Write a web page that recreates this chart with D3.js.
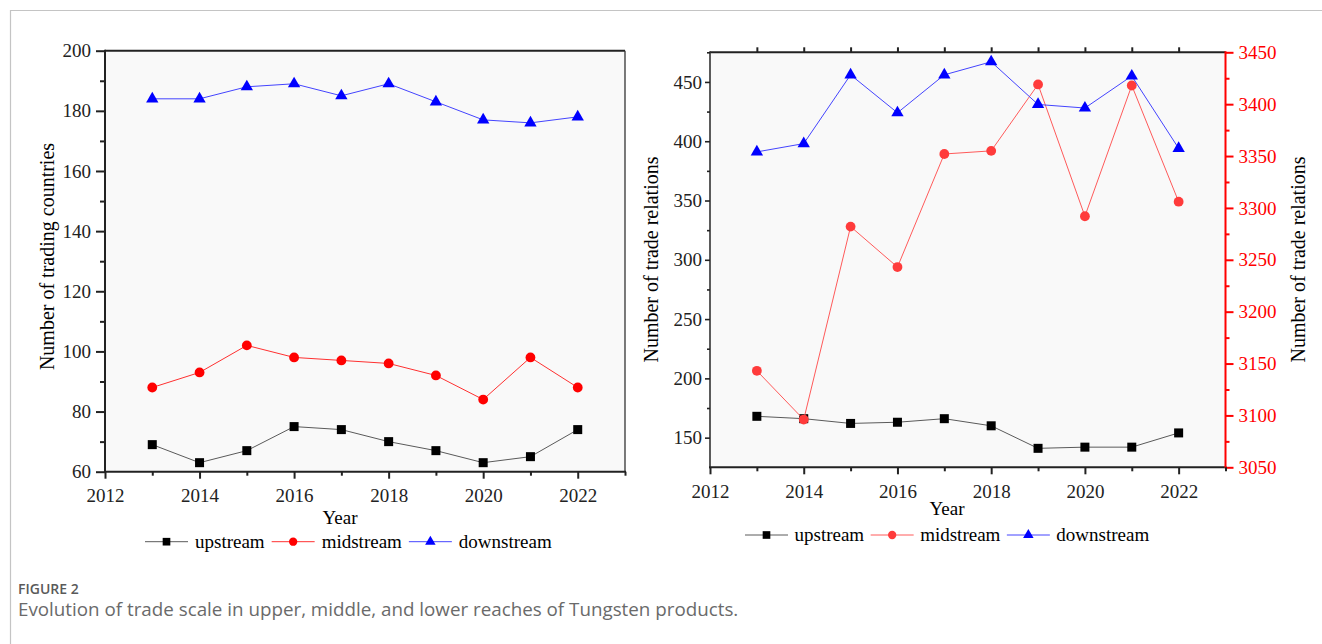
<!DOCTYPE html>
<html>
<head>
<meta charset="utf-8">
<script src="https://cdn.jsdelivr.net/npm/d3@7"></script>
<style>
  html, body { margin: 0; padding: 0; background: #fff; }
  svg { display: block; }
</style>
</head>
<body>
<svg id="fig" width="1322" height="644"></svg>
<script>
// ---- data ----
const years = [2013, 2014, 2015, 2016, 2017, 2018, 2019, 2020, 2021, 2022];
const seriesNames = ["upstream", "midstream", "downstream"];

// trading countries per segment
const countriesUp   = [69, 63, 67, 75, 74, 70, 67, 63, 65, 74];
const countriesMid  = [88, 93, 102, 98, 97, 96, 92, 84, 98, 88];
const countriesDown = [184, 184, 188, 189, 185, 189, 183, 177, 176, 178];

// trade relations per segment (midstream on the right-hand axis)
const relationsUp   = [168, 166, 162, 163, 166, 160, 141, 142, 142, 154];
const relationsMid  = [3143, 3096, 3282, 3243, 3352, 3355, 3419, 3292, 3418, 3306];
const relationsDown = [391, 398, 456, 424, 456, 467, 431, 428, 455, 394];

// axis ticks
const yearTicks       = [2012, 2014, 2016, 2018, 2020, 2022];
const yearMinorTicks  = [2013, 2015, 2017, 2019, 2021, 2023];
const countryTicks    = [60, 80, 100, 120, 140, 160, 180, 200];
const countryMinor    = [70, 90, 110, 130, 150, 170, 190];
const relTicks        = [150, 200, 250, 300, 350, 400, 450];
const relMinor        = [175, 225, 275, 325, 375, 425, 475];
const relRightTicks   = [3050, 3100, 3150, 3200, 3250, 3300, 3350, 3400, 3450];
const relRightMinor   = [3075, 3125, 3175, 3225, 3275, 3325, 3375, 3425];

const SERIF = "Liberation Serif";
const SANS = "Open Sans";
const fmtInt = d3.format("d");
const svg = d3.select("#fig");

// page frame rules
svg.append("line").attr("x1", 10).attr("x2", 1322).attr("y1", 10.5).attr("y2", 10.5)
  .attr("stroke", "#c4c4c4").attr("stroke-width", 1.2);
svg.append("line").attr("x1", 10.5).attr("x2", 10.5).attr("y1", 10).attr("y2", 644)
  .attr("stroke", "#c4c4c4").attr("stroke-width", 1.2);

const styles = {
  up:   { line: "#5a5a5a", fill: "#000000", shape: "square" },
  mid:  { line: "#ff3030", fill: "#ff0000", shape: "circle" },
  mid2: { line: "#ff5a5a", fill: "#ff3b3b", shape: "circle" },
  down: { line: "#4444ff", fill: "#0000ff", shape: "triangle" }
};

function drawMarker(g, shape, cx, cy, color, scale) {
  scale = scale || 1;
  if (shape === "square") {
    const s = 9 * scale;
    g.append("rect").attr("x", cx - s / 2).attr("y", cy - s / 2)
      .attr("width", s).attr("height", s).attr("fill", color);
  } else if (shape === "circle") {
    g.append("circle").attr("cx", cx).attr("cy", cy).attr("r", 4.9 * scale).attr("fill", color);
  } else {
    g.append("path").attr("d", d3.symbol(d3.symbolTriangle, 66 * scale * scale)())
      .attr("transform", `translate(${cx},${cy})`).attr("fill", color);
  }
}

function drawSeries(g, x, y, values, st) {
  const line = d3.line().x((d, i) => x(years[i])).y(d => y(d));
  g.append("path").datum(values).attr("d", line)
    .attr("fill", "none").attr("stroke", st.line).attr("stroke-width", 1);
  const mg = g.append("g");
  values.forEach((v, i) => drawMarker(mg, st.shape, x(years[i]), y(v), st.fill));
}

function styleAxis(g, color, width) {
  g.attr("font-family", SERIF).attr("font-size", 19);
  g.select(".domain").remove();
  g.selectAll(".tick line").attr("stroke", color).attr("stroke-width", width);
  g.selectAll(".tick text").attr("fill", color)
    .attr("font-family", SERIF).attr("font-size", 19);
}

function legend(x0, cy, items, gap) {
  const g = svg.append("g");
  let x = x0;
  items.forEach(it => {
    g.append("line").attr("x1", x).attr("x2", x + 43).attr("y1", cy).attr("y2", cy)
      .attr("stroke", it.st.line).attr("stroke-width", 1);
    drawMarker(g, it.st.shape, x + 21.5, cy, it.st.fill, 0.85);
    const t = g.append("text").attr("x", x + 43 + gap).attr("y", cy).attr("dy", "0.32em")
      .attr("font-family", SERIF).attr("font-size", 19).attr("fill", "#000").text(it.name);
    x = x + 43 + gap + t.node().getComputedTextLength() + gap;
  });
}

// ---------- left panel: number of trading countries ----------
{
  const L = 105, R = 625, T = 50.7, B = 471.7;
  const x = d3.scaleLinear().domain([2012, 2023]).range([L, R]);
  const y = d3.scaleLinear().domain([60, 200]).range([B, T]);
  const g = svg.append("g");
  g.append("rect").attr("x", L).attr("y", T).attr("width", R - L).attr("height", B - T).attr("fill", "#f9f9f9");

  const plot = g.append("g");
  drawSeries(plot, x, y, countriesUp, styles.up);
  drawSeries(plot, x, y, countriesMid, styles.mid);
  drawSeries(plot, x, y, countriesDown, styles.down);

  // frame
  g.append("line").attr("x1", L).attr("x2", R).attr("y1", T).attr("y2", T).attr("stroke", "#222").attr("stroke-width", 2);
  g.append("line").attr("x1", R).attr("x2", R).attr("y1", T).attr("y2", B).attr("stroke", "#333").attr("stroke-width", 1.3);
  g.append("line").attr("x1", L).attr("x2", L).attr("y1", T - 1).attr("y2", B + 1).attr("stroke", "#222").attr("stroke-width", 2);
  g.append("line").attr("x1", L - 1).attr("x2", R + 1).attr("y1", B).attr("y2", B).attr("stroke", "#222").attr("stroke-width", 2);

  const ay = g.append("g").attr("transform", `translate(${L},0)`)
    .call(d3.axisLeft(y).tickValues(countryTicks).tickSize(9).tickPadding(5).tickFormat(fmtInt));
  styleAxis(ay, "#222", 2);
  const ay2 = g.append("g").attr("transform", `translate(${L},0)`)
    .call(d3.axisLeft(y).tickValues(countryMinor).tickSize(5).tickFormat(""));
  styleAxis(ay2, "#222", 2);

  const ax = g.append("g").attr("transform", `translate(0,${B})`)
    .call(d3.axisBottom(x).tickValues(yearTicks).tickSize(7).tickPadding(10).tickFormat(fmtInt));
  styleAxis(ax, "#222", 2);
  const ax2 = g.append("g").attr("transform", `translate(0,${B})`)
    .call(d3.axisBottom(x).tickValues(yearMinorTicks).tickSize(4).tickFormat(""));
  styleAxis(ax2, "#222", 2);

  g.append("text").attr("x", 340).attr("y", 524).attr("text-anchor", "middle")
    .attr("font-family", SERIF).attr("font-size", 19).text("Year");
  g.append("text").attr("transform", "translate(47,256.5) rotate(-90)").attr("text-anchor", "middle")
    .attr("dy", "0.35em").attr("font-family", SERIF).attr("font-size", 20).text("Number of trading countries");

  legend(145, 541.7, [
    { name: seriesNames[0], st: styles.up },
    { name: seriesNames[1], st: styles.mid },
    { name: seriesNames[2], st: styles.down }
  ], 7);
}

// ---------- right panel: number of trade relations ----------
{
  const L = 710, R = 1225.5, T = 52.3, B = 467.3;
  const x = d3.scaleLinear().domain([2012, 2023]).range([L, R]);
  const y = d3.scaleLinear().domain([125, 475]).range([B, T]);
  const yR = d3.scaleLinear().domain([3050, 3450]).range([B, T]);
  const g = svg.append("g");
  g.append("rect").attr("x", L).attr("y", T).attr("width", R - L).attr("height", B - T).attr("fill", "#f9f9f9");

  const plot = g.append("g");
  drawSeries(plot, x, y, relationsUp, styles.up);
  drawSeries(plot, x, yR, relationsMid, styles.mid2);
  drawSeries(plot, x, y, relationsDown, styles.down);

  // frame
  g.append("line").attr("x1", L).attr("x2", R).attr("y1", T).attr("y2", T).attr("stroke", "#222").attr("stroke-width", 2);
  g.append("line").attr("x1", L).attr("x2", L).attr("y1", T - 1).attr("y2", B + 1).attr("stroke", "#333").attr("stroke-width", 1.6);
  g.append("line").attr("x1", L - 1).attr("x2", R + 1).attr("y1", B).attr("y2", B).attr("stroke", "#222").attr("stroke-width", 2);
  g.append("line").attr("x1", R).attr("x2", R).attr("y1", T - 1).attr("y2", B + 1).attr("stroke", "#ff0000").attr("stroke-width", 2);

  const ay = g.append("g").attr("transform", `translate(${L},0)`)
    .call(d3.axisLeft(y).tickValues(relTicks).tickSize(5).tickPadding(3).tickFormat(fmtInt));
  styleAxis(ay, "#222", 1.6);
  const ay2 = g.append("g").attr("transform", `translate(${L},0)`)
    .call(d3.axisLeft(y).tickValues(relMinor).tickSize(3).tickFormat(""));
  styleAxis(ay2, "#222", 1.6);

  const ar = g.append("g").attr("transform", `translate(${R},0)`)
    .call(d3.axisRight(yR).tickValues(relRightTicks).tickSize(8).tickPadding(5).tickFormat(fmtInt));
  styleAxis(ar, "#ff0000", 2);
  const ar2 = g.append("g").attr("transform", `translate(${R},0)`)
    .call(d3.axisRight(yR).tickValues(relRightMinor).tickSize(4).tickFormat(""));
  styleAxis(ar2, "#ff0000", 2);

  const ax = g.append("g").attr("transform", `translate(0,${B})`)
    .call(d3.axisBottom(x).tickValues(yearTicks).tickSize(7).tickPadding(10).tickFormat(fmtInt));
  styleAxis(ax, "#222", 2);
  const ax2 = g.append("g").attr("transform", `translate(0,${B})`)
    .call(d3.axisBottom(x).tickValues(yearMinorTicks).tickSize(4).tickFormat(""));
  styleAxis(ax2, "#222", 2);

  const at = g.append("g").attr("transform", `translate(0,${T})`)
    .call(d3.axisTop(x).tickValues(yearTicks.concat(yearMinorTicks).filter(v => v > 2012 && v < 2023)).tickSize(5).tickFormat(""));
  styleAxis(at, "#222", 2);

  g.append("text").attr("x", 947).attr("y", 515).attr("text-anchor", "middle")
    .attr("font-family", SERIF).attr("font-size", 19).text("Year");
  g.append("text").attr("transform", "translate(651,259.5) rotate(-90)").attr("text-anchor", "middle")
    .attr("dy", "0.35em").attr("font-family", SERIF).attr("font-size", 20).text("Number of trade relations");
  g.append("text").attr("transform", "translate(1298,259.5) rotate(-90)").attr("text-anchor", "middle")
    .attr("dy", "0.35em").attr("font-family", SERIF).attr("font-size", 20).text("Number of trade relations");

  legend(745, 535, [
    { name: seriesNames[0], st: styles.up },
    { name: seriesNames[1], st: styles.mid2 },
    { name: seriesNames[2], st: styles.down }
  ], 6.5);
}

// ---------- caption ----------
svg.append("text").attr("x", 18).attr("y", 594)
  .attr("font-family", SANS).attr("font-size", 14).attr("font-weight", 600)
  .attr("fill", "#5a5a5a").text("FIGURE 2");
svg.append("text").attr("x", 18).attr("y", 616)
  .attr("font-family", SANS).attr("font-size", 18.8)
  .attr("fill", "#6a6a6a").text("Evolution of trade scale in upper, middle, and lower reaches of Tungsten products.");
</script>
</body>
</html>
